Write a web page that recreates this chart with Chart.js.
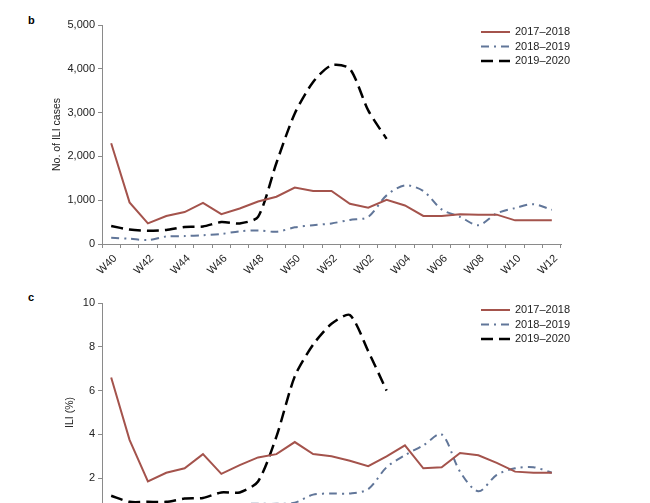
<!DOCTYPE html>
<html>
<head>
<meta charset="utf-8">
<script src="https://cdn.jsdelivr.net/npm/chart.js@4"></script>
<style>
  html, body { margin: 0; padding: 0; width: 650px; height: 503px; overflow: hidden; background: #fff; }
  .panel { position: absolute; left: 0; width: 650px; height: 290px; }
  .tag { position: absolute; left: 28px; font: bold 11px "Liberation Sans", Arial, sans-serif; color: #000; }
</style>
</head>
<body>
<div class="tag" style="top:14px">b</div>
<div class="panel" style="top:0"><canvas id="cases" width="650" height="290"></canvas></div>
<div class="tag" style="top:291px">c</div>
<div class="panel" style="top:278px"><canvas id="rate" width="650" height="290"></canvas></div>
<script>
// Surveillance weeks W40 to W12
const weeks = ['W40','W41','W42','W43','W44','W45','W46','W47','W48','W49','W50','W51','W52',
               'W01','W02','W03','W04','W05','W06','W07','W08','W09','W10','W11','W12'];
const seasons = ['2017\u20132018', '2018\u20132019', '2019\u20132020'];

// panel b: number of ILI cases
const cases1718 = [2300, 950, 470, 640, 730, 940, 680, 810, 970, 1080, 1290, 1210, 1210,
                   920, 830, 1010, 880, 640, 640, 680, 670, 670, 540, 540, 540];
const cases1819 = [140, 120, 90, 170, 180, 200, 230, 290, 310, 280, 380, 430, 470,
                   550, 620, 1110, 1340, 1210, 790, 620, 430, 700, 820, 910, 780];
const cases1920 = [410, 330, 300, 320, 390, 400, 500, 470, 620, 1850, 2980, 3700, 4080,
                   4000, 3050, 2400];

// panel c: ILI percentage
const rate1718 = [6.6, 3.75, 1.85, 2.25, 2.45, 3.1, 2.2, 2.6, 2.95, 3.1, 3.65, 3.1, 3.0,
                  2.8, 2.55, 3.0, 3.5, 2.45, 2.5, 3.15, 3.05, 2.7, 2.3, 2.25, 2.25];
const rate1819 = [0.6, 0.55, 0.5, 0.6, 0.65, 0.7, 0.75, 0.82, 0.83, 0.83, 0.88, 1.25, 1.3,
                  1.3, 1.5, 2.5, 3.05, 3.5, 4.0, 2.3, 1.4, 2.15, 2.45, 2.5, 2.25];
const rate1920 = [1.2, 0.92, 0.92, 0.92, 1.07, 1.1, 1.35, 1.35, 1.85, 3.9, 6.65, 8.1, 9.05,
                  9.45, 7.8, 6.0];

const FONT = '"Liberation Sans", Arial, sans-serif';
const axisGray = '#8a8a8a';
const textColor = '#222';

// legend drawn inside the plot, top right
const insideLegend = {
  id: 'insideLegend',
  afterDraw(chart) {
    const {ctx, chartArea} = chart;
    ctx.save();
    chart.data.datasets.forEach((ds, i) => {
      const y = chartArea.top + 7 + i * 14.5;
      ctx.strokeStyle = ds.borderColor;
      ctx.lineWidth = ds.borderWidth;
      ctx.setLineDash(ds.borderDash || []);
      ctx.beginPath();
      ctx.moveTo(481, y);
      ctx.lineTo(510, y);
      ctx.stroke();
      ctx.setLineDash([]);
      ctx.fillStyle = textColor;
      ctx.font = '11px ' + FONT;
      ctx.textBaseline = 'middle';
      ctx.fillText(ds.label, 515, y);
    });
    ctx.restore();
  }
};

function makeDatasets(a, b, c) {
  return [
    { label: seasons[0], data: a, borderColor: '#a4534c', borderWidth: 2, tension: 0 },
    { label: seasons[1], data: b, borderColor: '#617699', borderWidth: 2, borderDash: [8, 5, 2, 5], tension: 0.3 },
    { label: seasons[2], data: c, borderColor: '#000', borderWidth: 2.5, borderDash: [12, 6], tension: 0.25 }
  ];
}

function makeOptions(yMax, yStep, yTitle, titleGap, fmt) {
  return {
    responsive: false,
    animation: false,
    layout: { padding: { left: titleGap, right: 89, top: 25, bottom: 0 } },
    elements: { point: { radius: 0 } },
    plugins: { legend: { display: false }, tooltip: { enabled: false } },
    scales: {
      x: {
        offset: true,
        grid: { offset: true, drawOnChartArea: false, tickLength: 4, color: axisGray },
        border: { color: axisGray },
        ticks: {
          autoSkip: false, minRotation: 45, maxRotation: 45, padding: 4, labelOffset: 4,
          color: textColor, font: { family: FONT, size: 11 },
          callback: (v, i) => (i % 2 === 0 ? weeks[i] : '')
        },
        afterFit: s => { s.height = 46; }
      },
      y: {
        min: 0, max: yMax,
        grid: { drawOnChartArea: false, tickLength: 4, color: axisGray },
        border: { color: axisGray },
        ticks: { stepSize: yStep, padding: 3, color: textColor, font: { family: FONT, size: 11 }, callback: fmt },
        title: { display: true, text: yTitle, color: textColor, font: { family: FONT, size: 10.5 }, padding: 0 },
        afterFit: s => { s.width = 102 - titleGap; }
      }
    }
  };
}

new Chart(document.getElementById('cases'), {
  type: 'line',
  data: { labels: weeks, datasets: makeDatasets(cases1718, cases1819, cases1920) },
  options: makeOptions(5000, 1000, 'No. of ILI cases', 51, v => v.toLocaleString('en-US')),
  plugins: [insideLegend]
});

new Chart(document.getElementById('rate'), {
  type: 'line',
  data: { labels: weeks, datasets: makeDatasets(rate1718, rate1819, rate1920) },
  options: makeOptions(10, 2, 'ILI (%)', 64, v => v),
  plugins: [insideLegend]
});
</script>
</body>
</html>
